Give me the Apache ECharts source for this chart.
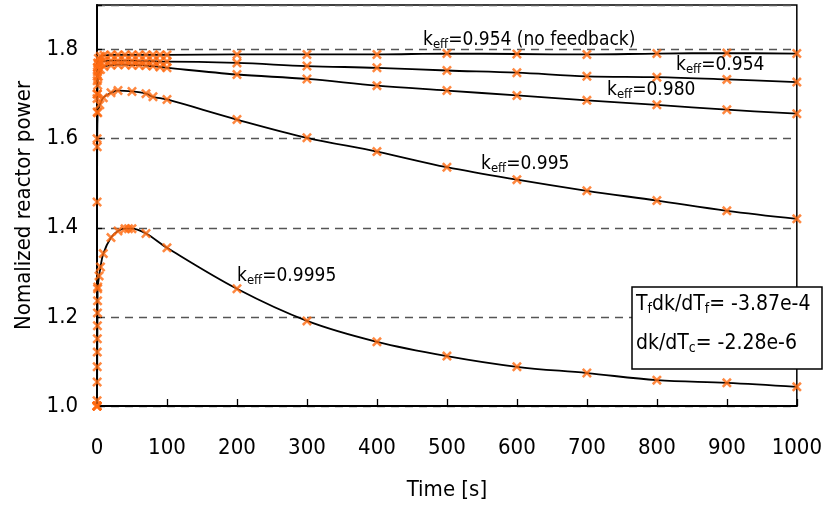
<!DOCTYPE html>
<html><head><meta charset="utf-8">
<script src="https://cdn.jsdelivr.net/npm/echarts@6/dist/echarts.min.js"></script>
<style>html,body{margin:0;padding:0;background:#fff}#c{width:825px;height:506px}</style>
</head><body><div id="c"></div>
<script>
// ---- data ----
const xTicks = [0,100,200,300,400,500,600,700,800,900,1000];
const yTicks = ['1.0','1.2','1.4','1.6','1.8'];

const tNoFb = [0,0.1,0.3,0.6,1,2,5,10,20,30,40,50,60,70,80,90,100,200,300,400,500,600,700,800,900,1000];
const pNoFb = [1.0,1.70,1.74,1.76,1.77,1.78,1.785,1.787,1.788,1.788,1.788,1.788,1.788,1.788,1.788,1.788,1.788,1.789,1.789,1.789,1.791,1.790,1.789,1.791,1.792,1.791];

const t954 = [0,0.1,0.3,0.6,1,2,5,10,20,30,40,50,60,70,80,90,100,200,300,400,500,600,700,800,900,1000];
const p954 = [1.0,1.69,1.73,1.75,1.76,1.768,1.772,1.774,1.775,1.775,1.775,1.775,1.774,1.774,1.774,1.773,1.773,1.770,1.763,1.759,1.753,1.748,1.740,1.738,1.733,1.727];

const t980 = [0,0.1,0.3,0.6,1,2,5,10,20,30,40,50,60,70,80,90,100,200,300,400,500,600,700,800,900,1000];
const p980 = [1.0,1.60,1.66,1.70,1.72,1.74,1.755,1.762,1.765,1.766,1.766,1.765,1.765,1.764,1.763,1.761,1.759,1.744,1.734,1.719,1.708,1.697,1.686,1.676,1.665,1.656];

const t995 = [0,0.1,0.3,1,4,9,20,30,50,70,80,100,200,300,400,500,600,700,800,900,1000];
const p995 = [1.0,1.458,1.582,1.658,1.676,1.692,1.703,1.708,1.706,1.701,1.694,1.688,1.643,1.602,1.571,1.536,1.508,1.483,1.461,1.438,1.420];

const t9995 = [0,0.1,0.2,0.3,0.4,0.5,0.6,0.7,0.8,0.9,1,3,5,9,20,30,40,45,50,70,100,200,300,400,500,600,700,800,900,1000];
const p9995 = [1.0,1.012,1.054,1.088,1.121,1.151,1.180,1.209,1.236,1.263,1.267,1.292,1.312,1.342,1.378,1.393,1.398,1.398,1.398,1.387,1.355,1.263,1.191,1.144,1.112,1.088,1.074,1.058,1.052,1.043];

// ---- chart ----
const FONT = '"Liberation Sans Narrow","Arial Narrow","DejaVu Sans Condensed",sans-serif';
const zip = (t,p) => t.map((v,i)=>[v,p[i]]);
const sets = [[tNoFb,pNoFb],[t954,p954],[t980,p980],[t995,p995],[t9995,p9995]];
const XSYM = 'path://M0,1.8L1.8,0L5,3.2L8.2,0L10,1.8L6.8,5L10,8.2L8.2,10L5,6.8L1.8,10L0,8.2L3.2,5Z';

const series = [];
sets.forEach(([t,p])=>{
  series.push({type:'line', data:zip(t,p), showSymbol:false, smooth:0.35,
    lineStyle:{color:'#000',width:1.8}, z:2, silent:true});
});
sets.forEach(([t,p])=>{
  series.push({type:'scatter', data:zip(t,p), symbol:XSYM, symbolSize:10,
    itemStyle:{color:'#FF6A10'}, z:3, silent:true});
});

function rich(size){
  return {k:{fontSize:size,fontFamily:FONT,color:'#000'},
          s:{fontSize:Math.round(size*0.66),fontFamily:FONT,color:'#000',verticalAlign:'bottom',padding:[Math.round(size*0.42),0,0,0]}};
}
function lab(x,y,txt,size){
  return {type:'text',left:x,top:y,z:10,style:{text:txt,rich:rich(size),fill:'#000'}};
}

const chart = echarts.init(document.getElementById('c'));
chart.setOption({
  animation:false,
  backgroundColor:'#fff',
  grid:{left:97,right:28,top:5,bottom:100,show:true,borderColor:'#000',borderWidth:1.5,backgroundColor:'transparent'},
  xAxis:{type:'value',min:0,max:1000,interval:100,
    axisLine:{lineStyle:{color:'#000',width:2}},
    axisTick:{inside:true,length:7,lineStyle:{color:'#000',width:1.3}},
    axisLabel:{margin:31,color:'#000',fontSize:22,fontFamily:FONT,
      formatter:v=>xTicks.includes(v)?String(v):''},
    splitLine:{show:false},
    name:'Time [s]',nameLocation:'middle',nameGap:73,
    nameTextStyle:{color:'#000',fontSize:22,fontFamily:FONT}},
  yAxis:{type:'value',min:1.0,max:1.9,interval:0.2,
    axisLine:{show:true,lineStyle:{color:'#000',width:2}},
    axisTick:{show:true,inside:true,length:5,lineStyle:{color:'#000',width:1.3}},
    axisLabel:{margin:19,color:'#000',fontSize:22,fontFamily:FONT,
      formatter:v=>{const s=v.toFixed(1);return yTicks.includes(s)?s:'';}},
    splitLine:{show:true,lineStyle:{color:'#555',width:1.3,type:[8,6]}},
    name:'Nomalized reactor power',nameLocation:'middle',nameGap:62,
    nameTextStyle:{color:'#000',fontSize:22,fontFamily:FONT}},
  series:series,
  graphic:[
    lab(423,31,'{k|k}{s|eff}{k|=0.954 (no feedback)}',19),
    lab(676,56,'{k|k}{s|eff}{k|=0.954}',19),
    lab(607,81,'{k|k}{s|eff}{k|=0.980}',19),
    lab(481,155,'{k|k}{s|eff}{k|=0.995}',19),
    lab(237,267,'{k|k}{s|eff}{k|=0.9995}',19),
    {type:'rect',shape:{x:632,y:287,width:190,height:82},z:9,
      style:{fill:'#fff',stroke:'#000',lineWidth:1.5}},
    lab(636,294,'{k|T}{s|f}{k|dk/dT}{s|f}{k|= -3.87e-4}',21),
    lab(636,333,'{k|dk/dT}{s|c}{k|= -2.28e-6}',21)
  ]
});
</script></body></html>
